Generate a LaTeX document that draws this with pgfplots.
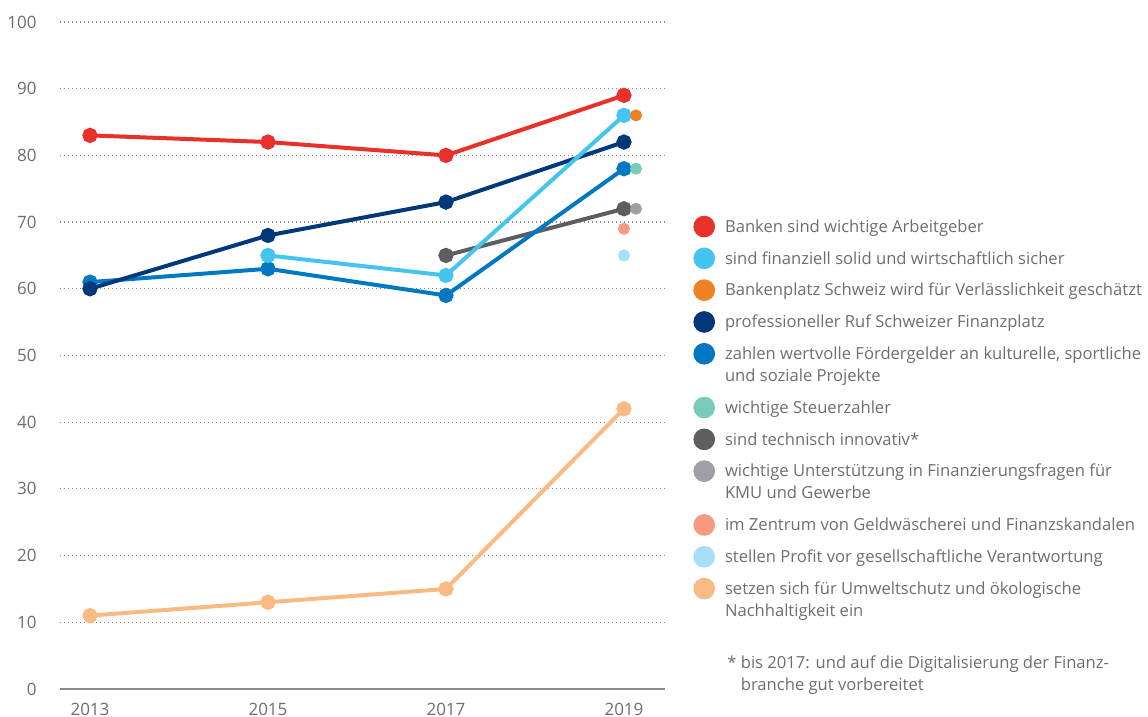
\documentclass[border=0pt]{standalone}
\usepackage{fontspec}
\setmainfont{Open Sans}
\usepackage{pgfplots}
\pgfplotsset{compat=1.18}

\definecolor{cRed}{HTML}{E8312A}
\definecolor{cLBlue}{HTML}{43C4F1}
\definecolor{cOrange}{HTML}{F08223}
\definecolor{cNavy}{HTML}{00387A}
\definecolor{cMBlue}{HTML}{0079C2}
\definecolor{cTeal}{HTML}{7ACBB9}
\definecolor{cDGray}{HTML}{5E5E61}
\definecolor{cLGray}{HTML}{A0A0A4}
\definecolor{cSalmon}{HTML}{F59B80}
\definecolor{cPale}{HTML}{A8DEF6}
\definecolor{cPeach}{HTML}{F9BB83}
\definecolor{cText}{HTML}{6E6E6E}
\definecolor{cGrid}{HTML}{8A8A8A}

\pgfplotsset{
  dotleg/.style={legend image code/.code={\fill[#1] (5.2pt,2.9pt) circle (5.2pt);}},
  ln/.style={#1, line width=2pt, mark=*, mark size=2.8pt, mark options={solid}},
  pt/.style={#1, only marks, mark=*, mark size=2.8pt},
}
% uniform line height in the legend
\newcommand{\st}{\vrule height 8pt depth 2.6pt width 0pt}
\newcommand{\one}[1]{\st#1}
\newcommand{\two}[2]{\vtop{\baselineskip=11pt\hbox{\st#1}\hbox{\st#2}}}

\begin{document}
\begin{tikzpicture}
\path[use as bounding box] (-30pt,-14pt) rectangle (544pt,344.5pt);
\begin{axis}[
    at={(0,0)}, anchor=south west,
    width=302.5pt, height=333.5pt, scale only axis,
    clip=false,
    xmin=2012.663, xmax=2019.461,
    ymin=0, ymax=100,
    axis x line*=bottom, axis y line*=left,
    x axis line style={draw=cGrid, line width=0.6pt, -},
    y axis line style={draw=none},
    major tick length=0pt,
    xtick={2013,2015,2017,2019},
    xticklabels={2013,2015,2017,2019},
    ytick={0,10,20,30,40,50,60,70,80,90,100},
    yticklabels={0,10,20,30,40,50,60,70,80,90,100},
    ymajorgrids,
    grid style={draw=cGrid, line width=0.6pt, dash pattern=on 0.6pt off 1.4pt},
    tick label style={font=\fontsize{8.5}{10}\selectfont, text=cText},
    yticklabel style={anchor=east, inner sep=0pt, xshift=-11.5pt},
    xticklabel style={anchor=north, inner sep=0pt, yshift=-7pt},
    legend style={at={(rel axis cs:1.047,0.7095)}, anchor=north west,
      draw=none, fill=none, inner sep=0pt, outer sep=0pt,
      row sep=5pt, column sep=5pt,
      font=\fontsize{8.3}{11}\selectfont, text=cText,
      cells={anchor=base west},
      nodes={inner sep=0pt, text depth=}},
]
% lines, drawn in the stacking order of the reference
\addplot[ln=cPeach, forget plot] coordinates {(2013,11) (2015,13) (2017,15) (2019,42)};
\addplot[ln=cDGray, forget plot] coordinates {(2017,65) (2019,72)};
\addplot[ln=cMBlue, forget plot] coordinates {(2013,61) (2015,63) (2017,59) (2019,78)};
\addplot[ln=cNavy, forget plot] coordinates {(2013,60) (2015,68) (2017,73) (2019,82)};
\addplot[ln=cLBlue, forget plot] coordinates {(2015,65) (2017,62) (2019,86)};
\addplot[ln=cRed, forget plot] coordinates {(2013,83) (2015,82) (2017,80) (2019,89)};
% single 2019 values
\addplot[pt=cOrange, forget plot] coordinates {(2019.135,86)};
\addplot[pt=cTeal, forget plot] coordinates {(2019.135,78)};
\addplot[pt=cLGray, forget plot] coordinates {(2019.135,72)};
\addplot[pt=cSalmon, forget plot] coordinates {(2019,69)};
\addplot[pt=cPale, forget plot] coordinates {(2019,65)};

\addlegendimage{dotleg=cRed}
\addlegendentry{\one{Banken sind wichtige Arbeitgeber}}
\addlegendimage{dotleg=cLBlue}
\addlegendentry{\one{sind finanziell solid und wirtschaftlich sicher}}
\addlegendimage{dotleg=cOrange}
\addlegendentry{\one{Bankenplatz Schweiz wird für Verlässlichkeit geschätzt}}
\addlegendimage{dotleg=cNavy}
\addlegendentry{\one{professioneller Ruf Schweizer Finanzplatz}}
\addlegendimage{dotleg=cMBlue}
\addlegendentry{\two{zahlen wertvolle Fördergelder an kulturelle, sportliche}{und soziale Projekte}}
\addlegendimage{dotleg=cTeal}
\addlegendentry{\one{wichtige Steuerzahler}}
\addlegendimage{dotleg=cDGray}
\addlegendentry{\one{sind technisch innovativ*}}
\addlegendimage{dotleg=cLGray}
\addlegendentry{\two{wichtige Unterstützung in Finanzierungsfragen für}{KMU und Gewerbe}}
\addlegendimage{dotleg=cSalmon}
\addlegendentry{\one{im Zentrum von Geldwäscherei und Finanzskandalen}}
\addlegendimage{dotleg=cPale}
\addlegendentry{\one{stellen Profit vor gesellschaftliche Verantwortung}}
\addlegendimage{dotleg=cPeach}
\addlegendentry{\two{setzen sich für Umweltschutz und ökologische}{Nachhaltigkeit ein}}

\node[anchor=north west, inner sep=0pt, font=\fontsize{8.3}{11}\selectfont, text=cText, align=left]
  at (rel axis cs:1.1025,0.051)
  {* bis 2017: und auf die Digitalisierung der Finanz-\\\hphantom{*\ }branche gut vorbereitet};
\end{axis}
\end{tikzpicture}
\end{document}
